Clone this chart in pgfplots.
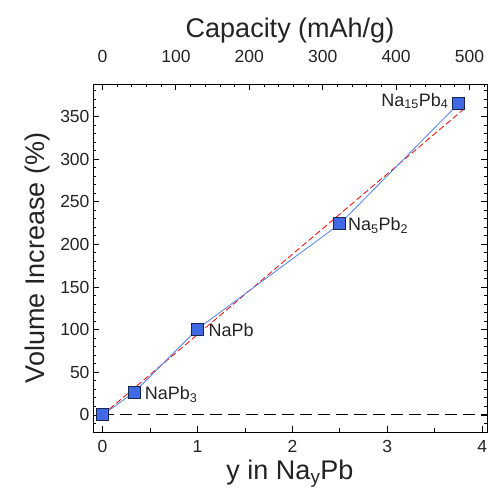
\documentclass[border=0pt]{standalone}
\usepackage{fontspec}
\setmainfont{Liberation Sans}
\usepackage{pgfplots}
\pgfplotsset{compat=1.18}
\definecolor{txt}{RGB}{35,35,35}
\definecolor{mfill}{RGB}{65,105,225}
\definecolor{mdraw}{RGB}{25,35,80}
\definecolor{bline}{RGB}{80,130,235}
\begin{document}
\begin{tikzpicture}
\begin{axis}[name=main,
  scale only axis, width=394pt, height=348pt,
  xmin=-0.1, xmax=4.05, ymin=-20, ymax=388,
  xtick={0,1,2,3,4}, minor x tick num=1,
  ytick={0,50,100,150,200,250,300,350}, minor y tick num=4,
  xtick pos=left, ytick pos=both,
  tick align=inside,
  major tick length=6pt, minor tick length=3.5pt,
  every tick/.style={line width=0.8pt, black},
  axis line style={line width=0.9pt},
  tick label style={font=\fontsize{17.5}{18}\selectfont, color=txt},
  label style={font=\fontsize{27}{28}\selectfont, color=txt},
  xticklabel style={yshift=-5pt},
  xlabel={y in Na\textsubscript{y}Pb},
  ylabel={Volume Increase (\%)},
  ylabel style={yshift=3pt},
  clip=false,
  /pgf/number format/assume math mode=true,
]
\addplot[black, line width=0.9pt, dash pattern=on 12pt off 6pt] coordinates {(0,0) (4.05,0)};
\addplot[red, line width=0.8pt, dash pattern=on 6pt off 3pt] coordinates {(0,0) (3.8,358)};
\addplot[bline, line width=0.8pt, mark=square*, mark size=6pt,
  mark options={fill=mfill, draw=mdraw, line width=0.9pt, solid}] coordinates {
  (0,0) (0.3333,26.5) (1,100.7) (2.5,224) (3.75,365)};
\node[anchor=west, font=\fontsize{18}{19}\selectfont, color=txt] at (axis cs:0.41,24) {NaPb\textsubscript{3}};
\node[anchor=west, font=\fontsize{18}{19}\selectfont, color=txt] at (axis cs:1.08,100) {NaPb};
\node[anchor=west, font=\fontsize{18}{19}\selectfont, color=txt] at (axis cs:2.55,222) {Na\textsubscript{5}Pb\textsubscript{2}};
\node[anchor=east, font=\fontsize{18}{19}\selectfont, color=txt] at (axis cs:3.68,368) {Na\textsubscript{15}Pb\textsubscript{4}};
% axis furniture: tick marks
\pgfplotsinvokeforeach{-10,10,20,30,40,60,70,80,90,110,120,130,140,160,170,180,190,210,220,230,240,260,270,280,290,310,320,330,340,360,370,380}{
  \draw[line width=0.8pt, black] (axis cs:-0.1,#1) -- ++(3.5pt,0pt);
  \draw[line width=0.8pt, black] (axis cs:4.05,#1) -- ++(-3.5pt,0pt);
}
\pgfplotsinvokeforeach{0,50,100,150,200,250,300,350}{
  \draw[line width=0.8pt, black] (axis cs:-0.1,#1) -- ++(6pt,0pt);
  \draw[line width=0.8pt, black] (axis cs:4.05,#1) -- ++(-6pt,0pt);
}
\pgfplotsinvokeforeach{0,1,2,3,4}{
  \draw[line width=0.8pt, black] (axis cs:#1,-20) -- ++(0pt,6pt);
}
\pgfplotsinvokeforeach{0.5,1.5,2.5,3.5}{
  \draw[line width=0.8pt, black] (axis cs:#1,-20) -- ++(0pt,3.5pt);
}
\end{axis}
\begin{axis}[
  scale only axis, width=394pt, height=348pt,
  xmin=-12.935, xmax=523.85, ymin=-20, ymax=388,
  axis x line*=top, axis y line=none,
  xtick={0,100,200,300,400,500}, minor x tick num=4,
  xtick pos=right,
  tick align=inside,
  major tick length=6pt, minor tick length=3.5pt,
  every tick/.style={line width=0.8pt, black},
  axis line style={line width=0.9pt},
  tick label style={font=\fontsize{17.5}{18}\selectfont, color=txt},
  label style={font=\fontsize{27}{28}\selectfont, color=txt},
  xlabel={Capacity (mAh/g)},
  xticklabel style={yshift=18pt},
  clip=false,
  /pgf/number format/assume math mode=true,
]
\pgfplotsinvokeforeach{0,100,200,300,400,500}{
  \draw[line width=0.8pt, black] (axis cs:#1,388) -- ++(0pt,-6pt);
}
\pgfplotsinvokeforeach{20,40,60,80,120,140,160,180,220,240,260,280,320,340,360,380,420,440,460,480,520}{
  \draw[line width=0.8pt, black] (axis cs:#1,388) -- ++(0pt,-3.5pt);
}
\end{axis}
\path ([xshift=-93pt,yshift=-67pt]main.south west) rectangle ([xshift=3pt,yshift=84pt]main.north east);
\end{tikzpicture}
\end{document}
